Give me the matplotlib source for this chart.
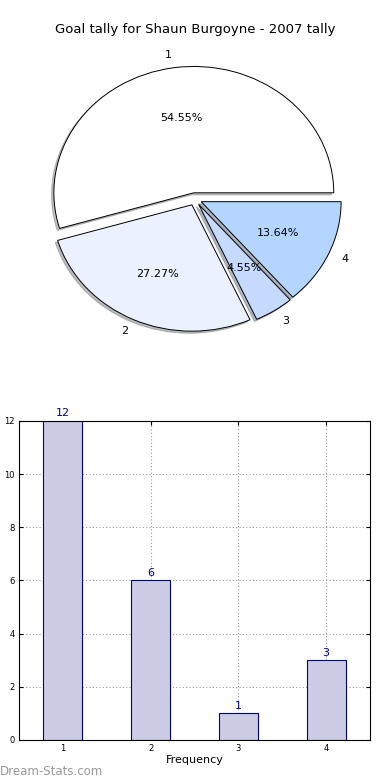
# Pie and bar chart of goal tally for one player

import matplotlib
matplotlib.use("Agg")
import matplotlib.pyplot as plt

labels = ["1", "2", "3", "4"]
tally = [12, 6, 1, 3]
pieColours = ["#FFFFFF", "#EBF1FF", "#C6D9FF", "#B3D5FF"]
titleText = "Goal tally for Shaun Burgoyne - 2007 tally"

fig = plt.figure(figsize=(3.9, 7.8), dpi=100)

# top: exploded pie with shadow
ax1 = fig.add_axes([0.051, 0.5423, 0.897, 0.405])
ax1.pie(tally, labels=labels, colors=pieColours, explode=[0.05] * len(tally),
        autopct="%.2f%%", shadow={"ox": -0.012, "oy": -0.012, "shade": 0.5},
        startangle=0, labeldistance=1.1, pctdistance=0.6,
        wedgeprops={"linewidth": 0.7, "edgecolor": "black"},
        textprops={"fontsize": 8})
ax1.set_aspect("auto")
ax1.set_title(titleText, fontsize=9.5)

# bottom: bar chart
ax2 = fig.add_axes([0.0487, 0.0513, 0.9, 0.409])
xPos = [int(l) for l in labels]
ax2.bar(xPos, tally, width=0.445, color="#CCCCE5", edgecolor="navy", linewidth=0.8, zorder=2)
for x, v in zip(xPos, tally):
    ax2.text(x, v + 0.1, str(v), ha="center", va="bottom", color="navy", fontsize=8)
ax2.set_xlim(0.5, 4.5)
ax2.set_ylim(0, 12)
ax2.set_xticks(xPos)
ax2.set_yticks(range(0, 13, 2))
ax2.tick_params(labelsize=6, length=3, direction="in", top=True, right=True, pad=3)
ax2.grid(True, linestyle=(0, (1, 2)), color="#999999", linewidth=0.8, zorder=0)
ax2.set_axisbelow(True)
ax2.set_xlabel("Frequency", fontsize=8, labelpad=1)
ax2.set_ylabel("Goal Tally", fontsize=8, fontweight="bold")
ax2.yaxis.set_label_coords(-0.058, 0.5)

fig.text(0.0, 0.006, "Dream-Stats.com", color="#999999", fontsize=8.5)

plt.savefig("out.png", dpi=100)
plt.close()
